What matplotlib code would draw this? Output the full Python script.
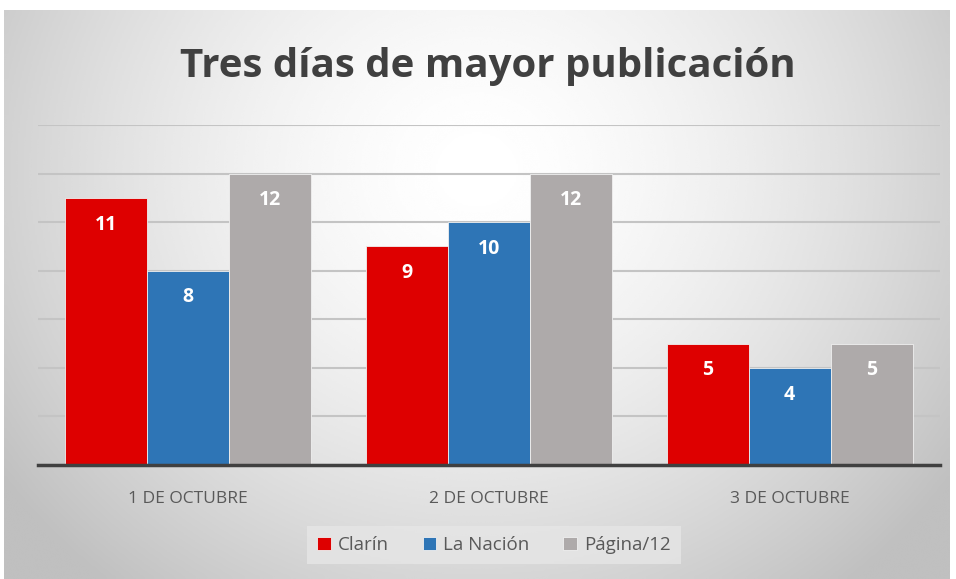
import matplotlib.pyplot as plt
import numpy as np

categories = ['1 DE OCTUBRE', '2 DE OCTUBRE', '3 DE OCTUBRE']
series_names = ['Clarín', 'La Nación', 'Página/12']
clarin = [11, 9, 5]
la_nacion = [8, 10, 4]
pagina12 = [12, 12, 5]
colors = ['#DE0000', '#2E75B6', '#AEAAAA']

W, H = 956, 579
fig = plt.figure(figsize=(W / 100, H / 100), dpi=100)
fig.patch.set_facecolor('white')

# fondo con degradado radial
bg = fig.add_axes([4 / W, 0, (950 - 4) / W, (569) / H], zorder=0)
yy, xx = np.mgrid[0:1:300j, 0:1:500j]
r = np.sqrt(((xx - 0.5) / 0.62) ** 2 + ((yy - 0.72) / 0.95) ** 2)
val = 1.0 - 0.25 * np.clip(r, 0, 1) ** 1.6
bg.imshow(val, cmap='gray', vmin=0, vmax=1, extent=[0, 1, 0, 1],
          aspect='auto', origin='lower', interpolation='bicubic')
bg.axis('off')

ax = fig.add_axes([38 / W, (H - 465) / H, (940 - 38) / W, (465 - 125) / H], zorder=1)
ax.patch.set_alpha(0)

x = np.arange(len(categories))
w = 0.273
for i, (vals, name) in enumerate(zip([clarin, la_nacion, pagina12], series_names)):
    bars = ax.bar(x + (i - 1) * w, vals, w, color=colors[i], label=name,
                  edgecolor='#f0f0f0', linewidth=0.6, zorder=3)
    for b, v in zip(bars, vals):
        ax.text(b.get_x() + b.get_width() / 2, v - 1.1, str(v), ha='center', va='center',
                color='white', fontsize=14, fontweight='bold', family='Open Sans', zorder=4)

ax.set_xlim(-0.5, 2.5)
ax.set_ylim(0, 14)
ax.set_yticks(range(0, 15, 2))
ax.yaxis.grid(True, color='#c4c4c4', linewidth=1.5, zorder=0)
ax.tick_params(axis='y', length=0, labelleft=False)
ax.tick_params(axis='x', length=0, pad=19, labelsize=12.5, labelcolor='#595959')
ax.set_xticks(x)
ax.set_xticklabels(categories, family='Open Sans')
for s in ['top', 'right', 'left']:
    ax.spines[s].set_visible(False)
ax.spines['bottom'].set_color('#404040')
ax.spines['bottom'].set_linewidth(2.5)
ax.spines['bottom'].set_zorder(5)

fig.text(488 / W, (H - 66) / H, 'Tres días de mayor publicación', ha='center', va='center',
         fontsize=29, fontweight='bold', color='#404040', family='Open Sans')

leg = fig.legend(loc='center', bbox_to_anchor=(494 / W, (H - 545) / H), ncol=3,
                 frameon=True, fancybox=False, handlelength=0.7, handleheight=0.7,
                 handletextpad=0.4, columnspacing=1.8, borderpad=0.55, borderaxespad=0,
                 prop={'family': 'Open Sans', 'size': 13.5})
leg.get_frame().set_facecolor('#e6e6e6')
leg.get_frame().set_edgecolor('none')
for t in leg.get_texts():
    t.set_color('#595959')

fig.savefig('out.png', dpi=100)
